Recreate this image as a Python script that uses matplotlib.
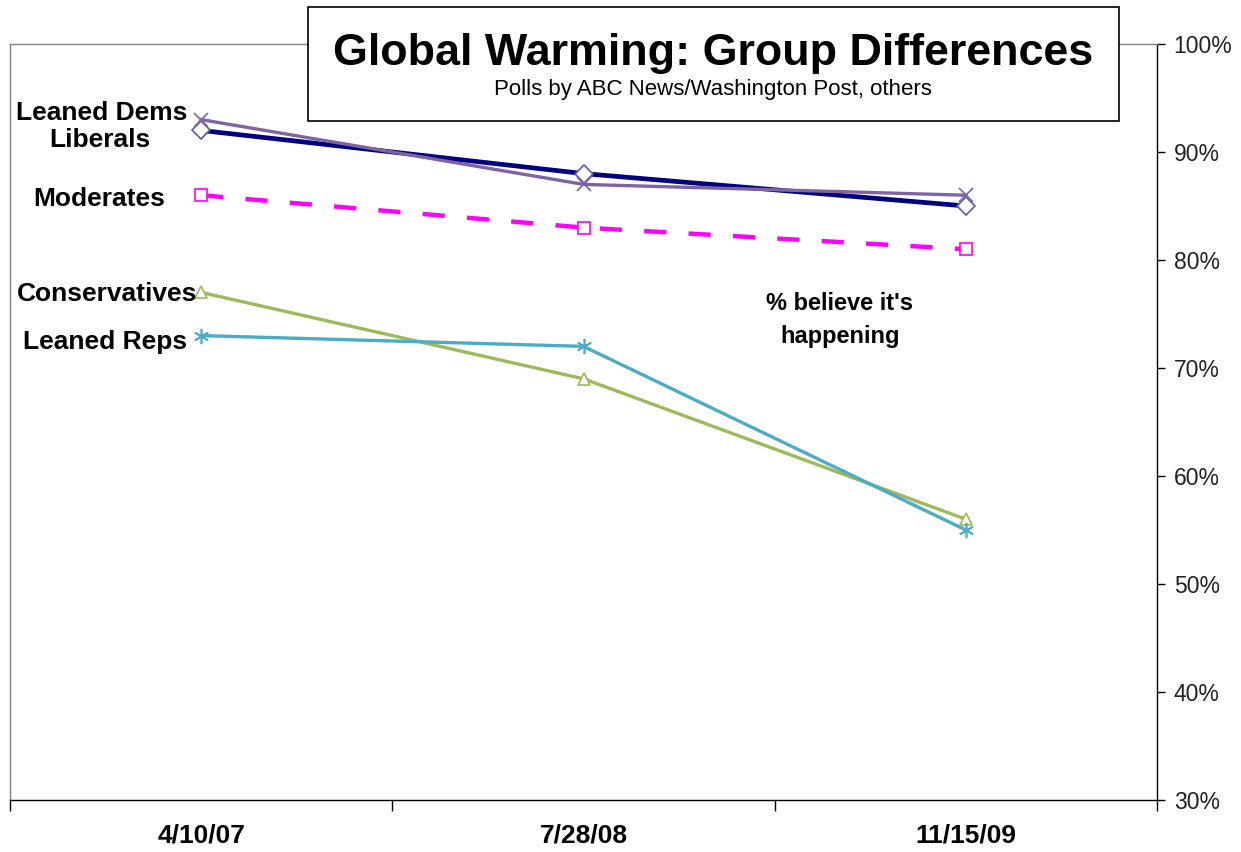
import matplotlib
matplotlib.use("Agg")
import matplotlib.pyplot as plt
from matplotlib.patches import Rectangle
from matplotlib.ticker import FuncFormatter

plt.rcParams["font.family"] = ["Liberation Sans", "DejaVu Sans"]

dates = ["4/10/07", "7/28/08", "11/15/09"]
liberals = [92, 88, 85]
leaned_dems = [93, 87, 86]
moderates = [86, 83, 81]
conservatives = [77, 69, 56]
leaned_reps = [73, 72, 55]

W, H = 1241, 852
fig = plt.figure(figsize=(W / 100, H / 100), dpi=100)
ax = fig.add_axes([10 / W, 1 - 800 / H, (1157 - 10) / W, (800 - 44) / H])

x = list(range(len(dates)))

ax.plot(x, liberals, color="#000080", lw=3.4, marker="D", ms=9,
        mfc="white", mec="#5B5BB0", mew=1.2, zorder=3)
ax.plot(x, leaned_dems, color="#8064A2", lw=2.4, marker="x", ms=10,
        mec="#8064A2", mew=1.2, zorder=4)
ax.plot(x, moderates, color="#FF00FF", lw=3.2, ls=(0, (5, 5)), marker="s", ms=9,
        mfc="white", mec="#FF00FF", mew=1.2, zorder=3)
ax.plot(x, conservatives, color="#9BBB59", lw=2.4, marker="^", ms=9,
        mfc="white", mec="#9BBB59", mew=1.2, zorder=3)
ax.plot(x, leaned_reps, color="#4BACC6", lw=2.4, marker=(6, 2, 0), ms=11,
        mec="#4BACC6", mew=1.2, zorder=3)

ax.set_xlim(-0.5, 2.5)
ax.set_ylim(30, 100)

# spines
for side in ["left", "top"]:
    ax.spines[side].set_color("#808080")
    ax.spines[side].set_linewidth(1.0)
for side in ["right", "bottom"]:
    ax.spines[side].set_color("black")
    ax.spines[side].set_linewidth(1.0)

ax.yaxis.tick_right()
ax.set_yticks(range(30, 101, 10))
ax.yaxis.set_major_formatter(FuncFormatter(lambda v, p: f"{int(v)}%"))
ax.tick_params(axis="y", direction="out", length=6, width=1, pad=6,
               labelsize=16.5, labelcolor="#222222")

ax.set_xticks(x)
ax.set_xticklabels(dates, fontsize=19, fontweight="bold")
ax.set_xticks([-0.5, 0.5, 1.5, 2.5], minor=True)
ax.tick_params(axis="x", which="major", length=0, pad=17)
ax.tick_params(axis="x", which="minor", direction="out", length=8, width=1)

# series labels on the left
lab_kw = dict(fontsize=19, fontweight="bold", transform=fig.transFigure,
              ha="center", va="center")
fig.text(102 / W, 1 - 113 / H, "Leaned Dems", **lab_kw)
fig.text(100 / W, 1 - 140 / H, "Liberals", **lab_kw)
fig.text(99 / W, 1 - 199 / H, "Moderates", **lab_kw)
fig.text(107 / W, 1 - 294 / H, "Conservatives", **lab_kw)
fig.text(105 / W, 1 - 342 / H, "Leaned Reps", **lab_kw)

fig.text(840 / W, 1 - 320 / H, "% believe it's\nhappening", fontsize=17,
         fontweight="bold", ha="center", va="center", linespacing=1.55)

# title box
fig.patches.append(Rectangle((308 / W, 1 - 121 / H), (1119 - 308) / W, (121 - 7) / H,
                             transform=fig.transFigure, facecolor="white",
                             edgecolor="black", lw=1.2, zorder=5))
fig.text(713 / W, 1 - 54 / H, "Global Warming: Group Differences", fontsize=32.3,
         fontweight="bold", ha="center", va="center", zorder=6)
fig.text(713 / W, 1 - 90 / H, "Polls by ABC News/Washington Post, others",
         fontsize=16, ha="center", va="center", zorder=6)

fig.savefig("out.png", dpi=100, facecolor="white")
